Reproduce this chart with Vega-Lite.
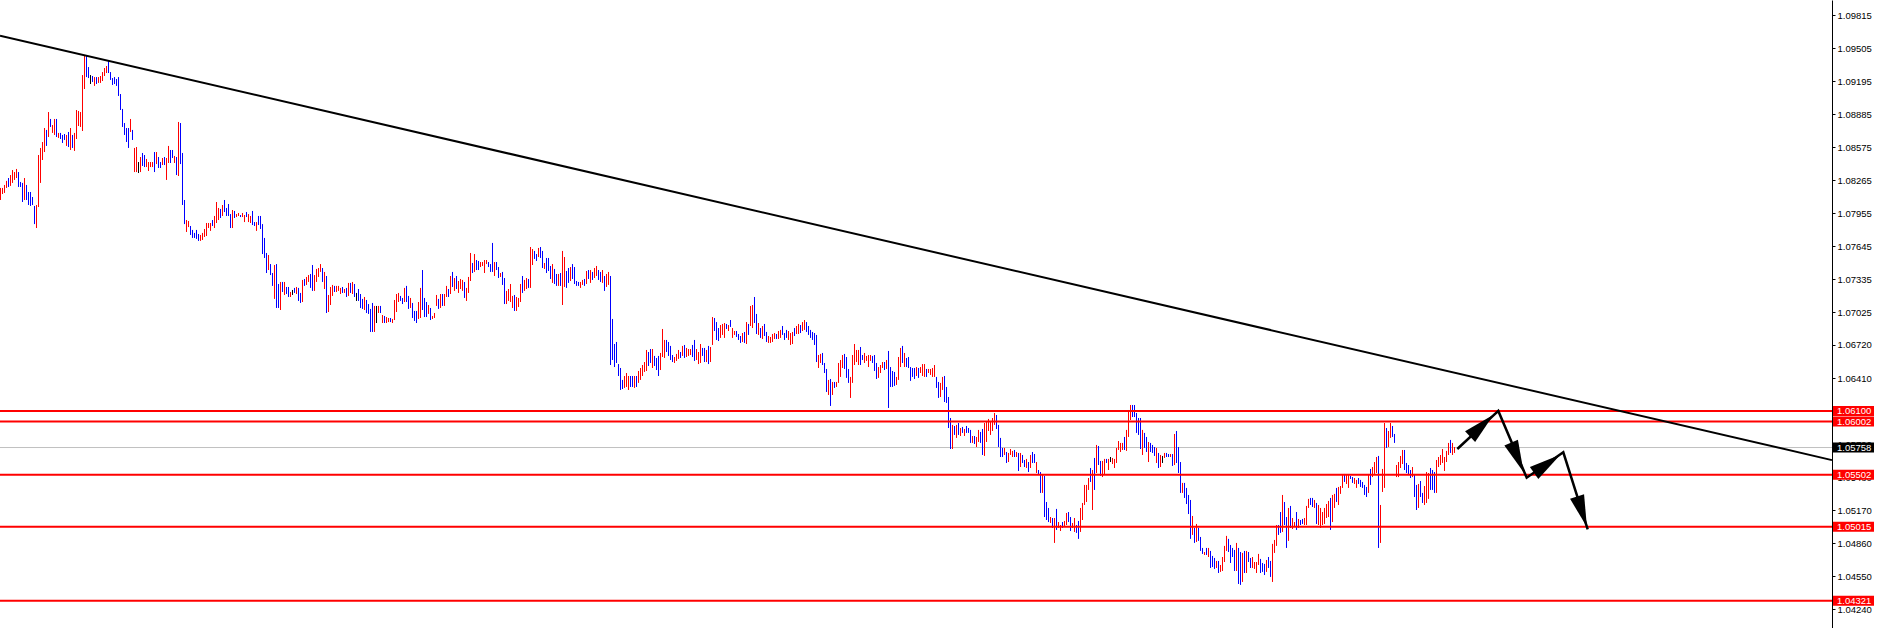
{
"$schema":"https://vega.github.io/schema/vega-lite/v6.json",
"width":1832,"height":628,
"autosize":{"type":"none"},
"padding":{"left":0,"top":0,"right":45,"bottom":0},
"background":"#ffffff",
"config":{"view":{"stroke":null},"axis":{"grid":false,"domainColor":"#000000","domainWidth":1,"tickColor":"#000000","tickSize":3,"tickWidth":1,"labelColor":"#000000","labelFont":"Liberation Sans","labelFontSize":9.5,"labelPadding":2,"labelFlush":false,"labelOverlap":false}},
"datasets":{
"bars":[
{"t":0,"h":1.08193,"l":1.0808,"d":"u"},{"t":1,"h":1.08193,"l":1.08136,"d":"u"},{"t":2,"h":1.08221,"l":1.08146,"d":"u"},{"t":3,"h":1.08259,"l":1.08193,"d":"u"},{"t":4,"h":1.08286,"l":1.08202,"d":"d"},{"t":5,"h":1.08314,"l":1.08212,"d":"u"},{"t":6,"h":1.08361,"l":1.0824,"d":"u"},{"t":7,"h":1.08342,"l":1.08268,"d":"u"},{"t":8,"h":1.08371,"l":1.08286,"d":"u"},{"t":9,"h":1.08342,"l":1.08202,"d":"d"},
{"t":10,"h":1.08249,"l":1.08202,"d":"d"},{"t":11,"h":1.0824,"l":1.08061,"d":"d"},{"t":12,"h":1.08286,"l":1.0808,"d":"u"},{"t":13,"h":1.08221,"l":1.0808,"d":"d"},{"t":14,"h":1.08155,"l":1.08033,"d":"d"},{"t":15,"h":1.08155,"l":1.08024,"d":"d"},{"t":16,"h":1.08108,"l":1.08033,"d":"d"},{"t":17,"h":1.08024,"l":1.07854,"d":"d"},{"t":18,"h":1.08033,"l":1.07817,"d":"u"},{"t":19,"h":1.08502,"l":1.08014,"d":"u"},
{"t":20,"h":1.08568,"l":1.0824,"d":"u"},{"t":21,"h":1.08624,"l":1.08455,"d":"u"},{"t":22,"h":1.08755,"l":1.0853,"d":"u"},{"t":23,"h":1.08737,"l":1.08587,"d":"d"},{"t":24,"h":1.08905,"l":1.08671,"d":"u"},{"t":25,"h":1.0884,"l":1.08765,"d":"d"},{"t":26,"h":1.08783,"l":1.08709,"d":"u"},{"t":27,"h":1.0884,"l":1.0869,"d":"u"},{"t":28,"h":1.0884,"l":1.08671,"d":"d"},{"t":29,"h":1.08709,"l":1.08662,"d":"u"},
{"t":30,"h":1.08709,"l":1.08652,"d":"d"},{"t":31,"h":1.0869,"l":1.08615,"d":"d"},{"t":32,"h":1.08699,"l":1.08643,"d":"d"},{"t":33,"h":1.0869,"l":1.08587,"d":"u"},{"t":34,"h":1.08718,"l":1.08577,"d":"d"},{"t":35,"h":1.08755,"l":1.08549,"d":"u"},{"t":36,"h":1.0869,"l":1.08568,"d":"d"},{"t":37,"h":1.08709,"l":1.0854,"d":"u"},{"t":38,"h":1.08924,"l":1.08652,"d":"u"},{"t":39,"h":1.08915,"l":1.08774,"d":"u"},
{"t":40,"h":1.08905,"l":1.08765,"d":"u"},{"t":41,"h":1.09252,"l":1.08727,"d":"u"},{"t":42,"h":1.0944,"l":1.09121,"d":"u"},{"t":43,"h":1.09431,"l":1.09233,"d":"d"},{"t":44,"h":1.09327,"l":1.09224,"d":"d"},{"t":45,"h":1.09252,"l":1.09168,"d":"k"},{"t":46,"h":1.09243,"l":1.09187,"d":"d"},{"t":47,"h":1.09233,"l":1.0915,"d":"u"},{"t":48,"h":1.09233,"l":1.09168,"d":"d"},{"t":49,"h":1.09233,"l":1.09178,"d":"u"},
{"t":50,"h":1.09243,"l":1.09178,"d":"u"},{"t":51,"h":1.0928,"l":1.09196,"d":"u"},{"t":52,"h":1.09318,"l":1.09243,"d":"u"},{"t":53,"h":1.09337,"l":1.09271,"d":"u"},{"t":54,"h":1.09384,"l":1.09271,"d":"d"},{"t":55,"h":1.0928,"l":1.09206,"d":"d"},{"t":56,"h":1.09224,"l":1.09159,"d":"d"},{"t":57,"h":1.09233,"l":1.09168,"d":"d"},{"t":58,"h":1.09215,"l":1.0915,"d":"d"},{"t":59,"h":1.09233,"l":1.09056,"d":"d"},
{"t":60,"h":1.09074,"l":1.08924,"d":"d"},{"t":61,"h":1.08934,"l":1.08765,"d":"d"},{"t":62,"h":1.08802,"l":1.0869,"d":"d"},{"t":63,"h":1.08755,"l":1.08624,"d":"d"},{"t":64,"h":1.08755,"l":1.08568,"d":"d"},{"t":65,"h":1.0884,"l":1.08718,"d":"u"},{"t":66,"h":1.08737,"l":1.08643,"d":"d"},{"t":67,"h":1.08568,"l":1.08342,"d":"u"},{"t":68,"h":1.08577,"l":1.08342,"d":"u"},{"t":69,"h":1.08436,"l":1.08333,"d":"k"},
{"t":70,"h":1.08483,"l":1.08342,"d":"u"},{"t":71,"h":1.08521,"l":1.08399,"d":"d"},{"t":72,"h":1.08502,"l":1.08389,"d":"d"},{"t":73,"h":1.08465,"l":1.08389,"d":"u"},{"t":74,"h":1.08436,"l":1.08352,"d":"u"},{"t":75,"h":1.08436,"l":1.08389,"d":"u"},{"t":76,"h":1.08436,"l":1.08389,"d":"u"},{"t":77,"h":1.0853,"l":1.08342,"d":"d"},{"t":78,"h":1.0853,"l":1.08417,"d":"u"},{"t":79,"h":1.08483,"l":1.0838,"d":"d"},
{"t":80,"h":1.08436,"l":1.0838,"d":"d"},{"t":81,"h":1.08474,"l":1.08408,"d":"u"},{"t":82,"h":1.08483,"l":1.08408,"d":"d"},{"t":83,"h":1.08474,"l":1.08268,"d":"u"},{"t":84,"h":1.08587,"l":1.08427,"d":"u"},{"t":85,"h":1.08549,"l":1.08427,"d":"d"},{"t":86,"h":1.08549,"l":1.08474,"d":"d"},{"t":87,"h":1.08493,"l":1.08427,"d":"u"},{"t":88,"h":1.08483,"l":1.08314,"d":"d"},{"t":89,"h":1.08812,"l":1.08305,"d":"u"},
{"t":90,"h":1.08802,"l":1.08417,"d":"d"},{"t":91,"h":1.08521,"l":1.08033,"d":"d"},{"t":92,"h":1.0808,"l":1.07854,"d":"d"},{"t":93,"h":1.07892,"l":1.0778,"d":"u"},{"t":94,"h":1.07883,"l":1.07826,"d":"u"},{"t":95,"h":1.07836,"l":1.07752,"d":"d"},{"t":96,"h":1.07799,"l":1.07724,"d":"d"},{"t":97,"h":1.07771,"l":1.07724,"d":"d"},{"t":98,"h":1.07799,"l":1.07715,"d":"d"},{"t":99,"h":1.07761,"l":1.07696,"d":"d"},
{"t":100,"h":1.07752,"l":1.07696,"d":"u"},{"t":101,"h":1.07771,"l":1.07705,"d":"u"},{"t":102,"h":1.07808,"l":1.07733,"d":"u"},{"t":103,"h":1.07864,"l":1.07742,"d":"u"},{"t":104,"h":1.07864,"l":1.07817,"d":"u"},{"t":105,"h":1.07864,"l":1.0779,"d":"u"},{"t":106,"h":1.07892,"l":1.07836,"d":"d"},{"t":107,"h":1.0793,"l":1.07817,"d":"u"},{"t":108,"h":1.08061,"l":1.07864,"d":"u"},{"t":109,"h":1.08005,"l":1.07892,"d":"u"},
{"t":110,"h":1.07996,"l":1.07911,"d":"d"},{"t":111,"h":1.08033,"l":1.0793,"d":"u"},{"t":112,"h":1.0808,"l":1.07967,"d":"d"},{"t":113,"h":1.08005,"l":1.0793,"d":"d"},{"t":114,"h":1.08042,"l":1.0793,"d":"d"},{"t":115,"h":1.07948,"l":1.07817,"d":"d"},{"t":116,"h":1.07986,"l":1.07817,"d":"u"},{"t":117,"h":1.07977,"l":1.07911,"d":"d"},{"t":118,"h":1.07948,"l":1.0792,"d":"u"},{"t":119,"h":1.07958,"l":1.0793,"d":"u"},
{"t":120,"h":1.07939,"l":1.0792,"d":"d"},{"t":121,"h":1.07958,"l":1.0792,"d":"u"},{"t":122,"h":1.07939,"l":1.07873,"d":"u"},{"t":123,"h":1.07967,"l":1.0792,"d":"d"},{"t":124,"h":1.07948,"l":1.07873,"d":"u"},{"t":125,"h":1.0793,"l":1.07864,"d":"u"},{"t":126,"h":1.07977,"l":1.07845,"d":"d"},{"t":127,"h":1.07873,"l":1.07836,"d":"d"},{"t":128,"h":1.07873,"l":1.0779,"d":"u"},{"t":129,"h":1.0793,"l":1.07845,"d":"d"},
{"t":130,"h":1.0793,"l":1.07808,"d":"d"},{"t":131,"h":1.07854,"l":1.07573,"d":"d"},{"t":132,"h":1.07724,"l":1.07536,"d":"d"},{"t":133,"h":1.07583,"l":1.07395,"d":"d"},{"t":134,"h":1.07564,"l":1.07423,"d":"u"},{"t":135,"h":1.07479,"l":1.07376,"d":"d"},{"t":136,"h":1.07395,"l":1.07274,"d":"d"},{"t":137,"h":1.0747,"l":1.07152,"d":"u"},{"t":138,"h":1.07479,"l":1.07067,"d":"d"},{"t":139,"h":1.07292,"l":1.07067,"d":"d"},
{"t":140,"h":1.07311,"l":1.07048,"d":"u"},{"t":141,"h":1.07311,"l":1.07217,"d":"d"},{"t":142,"h":1.07311,"l":1.07189,"d":"u"},{"t":143,"h":1.07264,"l":1.07198,"d":"d"},{"t":144,"h":1.07264,"l":1.0717,"d":"d"},{"t":145,"h":1.07217,"l":1.0717,"d":"u"},{"t":146,"h":1.07236,"l":1.07189,"d":"k"},{"t":147,"h":1.07255,"l":1.07208,"d":"d"},{"t":148,"h":1.07264,"l":1.07198,"d":"u"},{"t":149,"h":1.07255,"l":1.07133,"d":"d"},
{"t":150,"h":1.07208,"l":1.07114,"d":"d"},{"t":151,"h":1.0733,"l":1.07123,"d":"u"},{"t":152,"h":1.07339,"l":1.07274,"d":"d"},{"t":153,"h":1.07358,"l":1.07283,"d":"u"},{"t":154,"h":1.07376,"l":1.07311,"d":"u"},{"t":155,"h":1.07386,"l":1.07255,"d":"d"},{"t":156,"h":1.0747,"l":1.07227,"d":"d"},{"t":157,"h":1.07376,"l":1.07227,"d":"u"},{"t":158,"h":1.07433,"l":1.07311,"d":"u"},{"t":159,"h":1.07442,"l":1.07358,"d":"u"},
{"t":160,"h":1.07479,"l":1.07405,"d":"u"},{"t":161,"h":1.07442,"l":1.07311,"d":"d"},{"t":162,"h":1.07405,"l":1.07245,"d":"u"},{"t":163,"h":1.07367,"l":1.0702,"d":"d"},{"t":164,"h":1.07189,"l":1.07029,"d":"u"},{"t":165,"h":1.07264,"l":1.07095,"d":"u"},{"t":166,"h":1.07283,"l":1.0718,"d":"u"},{"t":167,"h":1.07274,"l":1.07217,"d":"d"},{"t":168,"h":1.07274,"l":1.07217,"d":"u"},{"t":169,"h":1.07274,"l":1.07227,"d":"u"},
{"t":170,"h":1.07255,"l":1.07198,"d":"u"},{"t":171,"h":1.07264,"l":1.07208,"d":"d"},{"t":172,"h":1.07245,"l":1.07208,"d":"u"},{"t":173,"h":1.07255,"l":1.0717,"d":"d"},{"t":174,"h":1.07302,"l":1.0718,"d":"u"},{"t":175,"h":1.07302,"l":1.07208,"d":"d"},{"t":176,"h":1.07311,"l":1.07198,"d":"u"},{"t":177,"h":1.07292,"l":1.0717,"d":"d"},{"t":178,"h":1.07208,"l":1.07133,"d":"k"},{"t":179,"h":1.07245,"l":1.07133,"d":"d"},
{"t":180,"h":1.07198,"l":1.07067,"d":"d"},{"t":181,"h":1.07152,"l":1.07058,"d":"d"},{"t":182,"h":1.0717,"l":1.07048,"d":"u"},{"t":183,"h":1.07142,"l":1.0702,"d":"d"},{"t":184,"h":1.07104,"l":1.07011,"d":"d"},{"t":185,"h":1.07058,"l":1.06842,"d":"d"},{"t":186,"h":1.07114,"l":1.06842,"d":"d"},{"t":187,"h":1.07086,"l":1.06842,"d":"u"},{"t":188,"h":1.07086,"l":1.06926,"d":"k"},{"t":189,"h":1.07086,"l":1.0702,"d":"u"},
{"t":190,"h":1.07086,"l":1.0702,"d":"d"},{"t":191,"h":1.07001,"l":1.06926,"d":"u"},{"t":192,"h":1.06992,"l":1.06926,"d":"d"},{"t":193,"h":1.06982,"l":1.06926,"d":"u"},{"t":194,"h":1.06973,"l":1.06935,"d":"u"},{"t":195,"h":1.06973,"l":1.06935,"d":"d"},{"t":196,"h":1.06964,"l":1.06926,"d":"u"},{"t":197,"h":1.07142,"l":1.06954,"d":"u"},{"t":198,"h":1.07198,"l":1.07029,"d":"u"},{"t":199,"h":1.07208,"l":1.07123,"d":"u"},
{"t":200,"h":1.0718,"l":1.07133,"d":"d"},{"t":201,"h":1.07161,"l":1.07104,"d":"d"},{"t":202,"h":1.07255,"l":1.07123,"d":"u"},{"t":203,"h":1.07274,"l":1.07123,"d":"d"},{"t":204,"h":1.0718,"l":1.07058,"d":"d"},{"t":205,"h":1.07161,"l":1.07067,"d":"u"},{"t":206,"h":1.07114,"l":1.06973,"d":"d"},{"t":207,"h":1.07039,"l":1.06945,"d":"d"},{"t":208,"h":1.07039,"l":1.06926,"d":"d"},{"t":209,"h":1.07123,"l":1.06964,"d":"u"},
{"t":210,"h":1.07255,"l":1.06973,"d":"u"},{"t":211,"h":1.07423,"l":1.07048,"d":"d"},{"t":212,"h":1.07161,"l":1.06982,"d":"d"},{"t":213,"h":1.07123,"l":1.06982,"d":"d"},{"t":214,"h":1.07095,"l":1.07011,"d":"u"},{"t":215,"h":1.07067,"l":1.06954,"d":"d"},{"t":216,"h":1.06992,"l":1.06964,"d":"u"},{"t":217,"h":1.0702,"l":1.06973,"d":"u"},{"t":218,"h":1.07189,"l":1.07086,"d":"u"},{"t":219,"h":1.07152,"l":1.07058,"d":"d"},
{"t":220,"h":1.07198,"l":1.07067,"d":"u"},{"t":221,"h":1.07198,"l":1.07086,"d":"d"},{"t":222,"h":1.07198,"l":1.07086,"d":"u"},{"t":223,"h":1.07274,"l":1.0717,"d":"u"},{"t":224,"h":1.07245,"l":1.0717,"d":"d"},{"t":225,"h":1.07367,"l":1.07198,"d":"u"},{"t":226,"h":1.07405,"l":1.07264,"d":"d"},{"t":227,"h":1.07348,"l":1.07227,"d":"u"},{"t":228,"h":1.07367,"l":1.07245,"d":"d"},{"t":229,"h":1.0732,"l":1.07208,"d":"u"},
{"t":230,"h":1.07339,"l":1.07245,"d":"u"},{"t":231,"h":1.0733,"l":1.07227,"d":"u"},{"t":232,"h":1.07311,"l":1.07161,"d":"d"},{"t":233,"h":1.07255,"l":1.07133,"d":"u"},{"t":234,"h":1.07358,"l":1.07208,"d":"u"},{"t":235,"h":1.07583,"l":1.0732,"d":"u"},{"t":236,"h":1.07489,"l":1.07395,"d":"d"},{"t":237,"h":1.07573,"l":1.07405,"d":"u"},{"t":238,"h":1.07517,"l":1.07423,"d":"d"},{"t":239,"h":1.07508,"l":1.07423,"d":"d"},
{"t":240,"h":1.07498,"l":1.07451,"d":"u"},{"t":241,"h":1.07498,"l":1.07461,"d":"u"},{"t":242,"h":1.07517,"l":1.07395,"d":"u"},{"t":243,"h":1.07517,"l":1.07479,"d":"u"},{"t":244,"h":1.07498,"l":1.07451,"d":"d"},{"t":245,"h":1.07479,"l":1.07405,"d":"d"},{"t":246,"h":1.07677,"l":1.07405,"d":"d"},{"t":247,"h":1.07498,"l":1.07367,"d":"u"},{"t":248,"h":1.07498,"l":1.07423,"d":"d"},{"t":249,"h":1.07451,"l":1.07348,"d":"d"},
{"t":250,"h":1.07395,"l":1.07358,"d":"u"},{"t":251,"h":1.07405,"l":1.07283,"d":"d"},{"t":252,"h":1.07348,"l":1.07104,"d":"d"},{"t":253,"h":1.07227,"l":1.07104,"d":"u"},{"t":254,"h":1.07245,"l":1.07133,"d":"u"},{"t":255,"h":1.07292,"l":1.07123,"d":"u"},{"t":256,"h":1.0718,"l":1.07067,"d":"u"},{"t":257,"h":1.07189,"l":1.07039,"d":"d"},{"t":258,"h":1.0717,"l":1.07039,"d":"u"},{"t":259,"h":1.07161,"l":1.07076,"d":"u"},
{"t":260,"h":1.07292,"l":1.07123,"d":"u"},{"t":261,"h":1.07367,"l":1.07208,"d":"d"},{"t":262,"h":1.0733,"l":1.07227,"d":"u"},{"t":263,"h":1.07348,"l":1.07245,"d":"u"},{"t":264,"h":1.07339,"l":1.07255,"d":"d"},{"t":265,"h":1.07639,"l":1.07255,"d":"u"},{"t":266,"h":1.0762,"l":1.0747,"d":"u"},{"t":267,"h":1.07602,"l":1.07527,"d":"d"},{"t":268,"h":1.07573,"l":1.07508,"d":"d"},{"t":269,"h":1.0763,"l":1.07545,"d":"u"},
{"t":270,"h":1.07639,"l":1.07536,"d":"d"},{"t":271,"h":1.07602,"l":1.07442,"d":"d"},{"t":272,"h":1.07489,"l":1.07433,"d":"u"},{"t":273,"h":1.07536,"l":1.07395,"d":"d"},{"t":274,"h":1.07536,"l":1.07414,"d":"d"},{"t":275,"h":1.07461,"l":1.07339,"d":"d"},{"t":276,"h":1.07479,"l":1.07302,"d":"u"},{"t":277,"h":1.07433,"l":1.07292,"d":"d"},{"t":278,"h":1.07386,"l":1.07274,"d":"d"},{"t":279,"h":1.07386,"l":1.07274,"d":"u"},
{"t":280,"h":1.07395,"l":1.07274,"d":"d"},{"t":281,"h":1.07602,"l":1.07095,"d":"u"},{"t":282,"h":1.07545,"l":1.07264,"d":"u"},{"t":283,"h":1.07414,"l":1.07255,"d":"d"},{"t":284,"h":1.07442,"l":1.07302,"d":"d"},{"t":285,"h":1.07451,"l":1.0732,"d":"u"},{"t":286,"h":1.07479,"l":1.07339,"d":"d"},{"t":287,"h":1.07451,"l":1.07292,"d":"d"},{"t":288,"h":1.0732,"l":1.07274,"d":"d"},{"t":289,"h":1.07311,"l":1.07274,"d":"d"},
{"t":290,"h":1.07311,"l":1.07255,"d":"u"},{"t":291,"h":1.0733,"l":1.07283,"d":"u"},{"t":292,"h":1.07339,"l":1.07274,"d":"d"},{"t":293,"h":1.07414,"l":1.07292,"d":"u"},{"t":294,"h":1.07423,"l":1.07339,"d":"d"},{"t":295,"h":1.07423,"l":1.07302,"d":"u"},{"t":296,"h":1.07405,"l":1.0733,"d":"d"},{"t":297,"h":1.07442,"l":1.07348,"d":"u"},{"t":298,"h":1.07461,"l":1.07367,"d":"u"},{"t":299,"h":1.07423,"l":1.0733,"d":"d"},
{"t":300,"h":1.07405,"l":1.07311,"d":"d"},{"t":301,"h":1.07423,"l":1.07302,"d":"u"},{"t":302,"h":1.07367,"l":1.07227,"d":"d"},{"t":303,"h":1.07386,"l":1.07264,"d":"u"},{"t":304,"h":1.07405,"l":1.07283,"d":"u"},{"t":305,"h":1.07367,"l":1.06532,"d":"d"},{"t":306,"h":1.06964,"l":1.06579,"d":"d"},{"t":307,"h":1.06729,"l":1.06513,"d":"d"},{"t":308,"h":1.06748,"l":1.06551,"d":"d"},{"t":309,"h":1.06541,"l":1.06429,"d":"d"},
{"t":310,"h":1.06504,"l":1.06298,"d":"d"},{"t":311,"h":1.06392,"l":1.06307,"d":"d"},{"t":312,"h":1.06429,"l":1.06317,"d":"u"},{"t":313,"h":1.06457,"l":1.06326,"d":"u"},{"t":314,"h":1.06429,"l":1.06298,"d":"u"},{"t":315,"h":1.06429,"l":1.06326,"d":"d"},{"t":316,"h":1.06429,"l":1.06326,"d":"d"},{"t":317,"h":1.06429,"l":1.06317,"d":"u"},{"t":318,"h":1.06429,"l":1.06326,"d":"d"},{"t":319,"h":1.06476,"l":1.06364,"d":"u"},
{"t":320,"h":1.06504,"l":1.06392,"d":"u"},{"t":321,"h":1.06532,"l":1.06429,"d":"u"},{"t":322,"h":1.0656,"l":1.06467,"d":"u"},{"t":323,"h":1.06673,"l":1.06476,"d":"u"},{"t":324,"h":1.06654,"l":1.06523,"d":"d"},{"t":325,"h":1.06682,"l":1.06551,"d":"d"},{"t":326,"h":1.06682,"l":1.06504,"d":"u"},{"t":327,"h":1.06617,"l":1.06523,"d":"d"},{"t":328,"h":1.06598,"l":1.06485,"d":"d"},{"t":329,"h":1.06617,"l":1.06429,"d":"d"},
{"t":330,"h":1.06645,"l":1.06485,"d":"u"},{"t":331,"h":1.0687,"l":1.06607,"d":"u"},{"t":332,"h":1.06767,"l":1.06598,"d":"u"},{"t":333,"h":1.06767,"l":1.06654,"d":"d"},{"t":334,"h":1.06748,"l":1.06617,"d":"d"},{"t":335,"h":1.06711,"l":1.06579,"d":"d"},{"t":336,"h":1.06626,"l":1.0656,"d":"d"},{"t":337,"h":1.06607,"l":1.06551,"d":"u"},{"t":338,"h":1.06636,"l":1.0657,"d":"u"},{"t":339,"h":1.06673,"l":1.06589,"d":"u"},
{"t":340,"h":1.06654,"l":1.06598,"d":"d"},{"t":341,"h":1.06711,"l":1.06617,"d":"u"},{"t":342,"h":1.0672,"l":1.06598,"d":"d"},{"t":343,"h":1.06692,"l":1.06607,"d":"u"},{"t":344,"h":1.06682,"l":1.06617,"d":"u"},{"t":345,"h":1.06682,"l":1.06626,"d":"u"},{"t":346,"h":1.0672,"l":1.06607,"d":"d"},{"t":347,"h":1.06767,"l":1.0657,"d":"d"},{"t":348,"h":1.06682,"l":1.06579,"d":"u"},{"t":349,"h":1.06654,"l":1.06541,"d":"u"},
{"t":350,"h":1.06729,"l":1.06551,"d":"u"},{"t":351,"h":1.06692,"l":1.06617,"d":"d"},{"t":352,"h":1.06692,"l":1.0656,"d":"d"},{"t":353,"h":1.06673,"l":1.0656,"d":"u"},{"t":354,"h":1.06711,"l":1.06541,"d":"d"},{"t":355,"h":1.06701,"l":1.0656,"d":"u"},{"t":356,"h":1.06982,"l":1.0672,"d":"u"},{"t":357,"h":1.06973,"l":1.06851,"d":"d"},{"t":358,"h":1.06935,"l":1.06767,"d":"d"},{"t":359,"h":1.06879,"l":1.06757,"d":"d"},
{"t":360,"h":1.06907,"l":1.06786,"d":"u"},{"t":361,"h":1.06917,"l":1.06814,"d":"u"},{"t":362,"h":1.06926,"l":1.06786,"d":"u"},{"t":363,"h":1.06917,"l":1.0687,"d":"d"},{"t":364,"h":1.06907,"l":1.06851,"d":"u"},{"t":365,"h":1.06954,"l":1.06889,"d":"d"},{"t":366,"h":1.06879,"l":1.06786,"d":"u"},{"t":367,"h":1.06851,"l":1.06814,"d":"u"},{"t":368,"h":1.06851,"l":1.06795,"d":"d"},{"t":369,"h":1.06823,"l":1.06767,"d":"d"},
{"t":370,"h":1.06804,"l":1.06739,"d":"d"},{"t":371,"h":1.06832,"l":1.06748,"d":"u"},{"t":372,"h":1.06842,"l":1.06739,"d":"d"},{"t":373,"h":1.06935,"l":1.06729,"d":"u"},{"t":374,"h":1.06917,"l":1.06814,"d":"d"},{"t":375,"h":1.07086,"l":1.06898,"d":"u"},{"t":376,"h":1.07095,"l":1.06879,"d":"u"},{"t":377,"h":1.0717,"l":1.06926,"d":"d"},{"t":378,"h":1.07011,"l":1.06823,"d":"d"},{"t":379,"h":1.06926,"l":1.06814,"d":"u"},
{"t":380,"h":1.06879,"l":1.06786,"d":"d"},{"t":381,"h":1.06898,"l":1.06776,"d":"u"},{"t":382,"h":1.06917,"l":1.06804,"d":"d"},{"t":383,"h":1.06842,"l":1.06748,"d":"d"},{"t":384,"h":1.06804,"l":1.06739,"d":"u"},{"t":385,"h":1.06795,"l":1.06739,"d":"u"},{"t":386,"h":1.06823,"l":1.06748,"d":"u"},{"t":387,"h":1.06832,"l":1.06776,"d":"u"},{"t":388,"h":1.06823,"l":1.06776,"d":"d"},{"t":389,"h":1.06851,"l":1.06776,"d":"u"},
{"t":390,"h":1.06861,"l":1.06786,"d":"u"},{"t":391,"h":1.06898,"l":1.06814,"d":"d"},{"t":392,"h":1.06832,"l":1.06767,"d":"d"},{"t":393,"h":1.06861,"l":1.06786,"d":"d"},{"t":394,"h":1.06851,"l":1.06767,"d":"u"},{"t":395,"h":1.06832,"l":1.0672,"d":"u"},{"t":396,"h":1.06842,"l":1.06729,"d":"u"},{"t":397,"h":1.06879,"l":1.06804,"d":"d"},{"t":398,"h":1.06898,"l":1.06823,"d":"u"},{"t":399,"h":1.06917,"l":1.06823,"d":"u"},
{"t":400,"h":1.06907,"l":1.06832,"d":"d"},{"t":401,"h":1.06935,"l":1.06851,"d":"u"},{"t":402,"h":1.06954,"l":1.06861,"d":"u"},{"t":403,"h":1.06935,"l":1.06842,"d":"d"},{"t":404,"h":1.06898,"l":1.06814,"d":"d"},{"t":405,"h":1.06861,"l":1.06786,"d":"d"},{"t":406,"h":1.06842,"l":1.06767,"d":"d"},{"t":407,"h":1.06832,"l":1.0672,"d":"d"},{"t":408,"h":1.06814,"l":1.0656,"d":"d"},{"t":409,"h":1.06626,"l":1.06504,"d":"u"},
{"t":410,"h":1.06636,"l":1.06551,"d":"u"},{"t":411,"h":1.06645,"l":1.06532,"d":"d"},{"t":412,"h":1.06551,"l":1.06457,"d":"d"},{"t":413,"h":1.06495,"l":1.06279,"d":"d"},{"t":414,"h":1.06392,"l":1.06251,"d":"u"},{"t":415,"h":1.06401,"l":1.06148,"d":"d"},{"t":416,"h":1.06373,"l":1.06251,"d":"u"},{"t":417,"h":1.06373,"l":1.06317,"d":"d"},{"t":418,"h":1.06373,"l":1.06326,"d":"u"},{"t":419,"h":1.06551,"l":1.06364,"d":"u"},
{"t":420,"h":1.06579,"l":1.0642,"d":"u"},{"t":421,"h":1.06626,"l":1.06504,"d":"u"},{"t":422,"h":1.06636,"l":1.06495,"d":"d"},{"t":423,"h":1.06607,"l":1.06411,"d":"d"},{"t":424,"h":1.06495,"l":1.06364,"d":"d"},{"t":425,"h":1.0642,"l":1.06223,"d":"u"},{"t":426,"h":1.06626,"l":1.06364,"d":"u"},{"t":427,"h":1.06729,"l":1.06532,"d":"u"},{"t":428,"h":1.06673,"l":1.0656,"d":"u"},{"t":429,"h":1.06673,"l":1.06532,"d":"u"},
{"t":430,"h":1.06701,"l":1.06532,"d":"d"},{"t":431,"h":1.06626,"l":1.06579,"d":"d"},{"t":432,"h":1.06645,"l":1.06551,"d":"u"},{"t":433,"h":1.06617,"l":1.0657,"d":"u"},{"t":434,"h":1.06626,"l":1.06513,"d":"u"},{"t":435,"h":1.06626,"l":1.0657,"d":"u"},{"t":436,"h":1.06617,"l":1.06551,"d":"d"},{"t":437,"h":1.06626,"l":1.06476,"d":"d"},{"t":438,"h":1.06551,"l":1.06401,"d":"d"},{"t":439,"h":1.06513,"l":1.06411,"d":"u"},
{"t":440,"h":1.06532,"l":1.06457,"d":"u"},{"t":441,"h":1.0656,"l":1.06504,"d":"u"},{"t":442,"h":1.0656,"l":1.06485,"d":"d"},{"t":443,"h":1.06579,"l":1.06495,"d":"u"},{"t":444,"h":1.06664,"l":1.06129,"d":"d"},{"t":445,"h":1.06513,"l":1.06326,"d":"d"},{"t":446,"h":1.06476,"l":1.06326,"d":"d"},{"t":447,"h":1.06467,"l":1.06336,"d":"d"},{"t":448,"h":1.0642,"l":1.06345,"d":"u"},{"t":449,"h":1.06607,"l":1.06392,"d":"u"},
{"t":450,"h":1.06692,"l":1.06513,"d":"u"},{"t":451,"h":1.06711,"l":1.06551,"d":"d"},{"t":452,"h":1.06645,"l":1.06513,"d":"u"},{"t":453,"h":1.06598,"l":1.06513,"d":"d"},{"t":454,"h":1.06607,"l":1.06504,"d":"d"},{"t":455,"h":1.06513,"l":1.06383,"d":"d"},{"t":456,"h":1.06504,"l":1.0642,"d":"d"},{"t":457,"h":1.06504,"l":1.06401,"d":"d"},{"t":458,"h":1.06513,"l":1.06429,"d":"u"},{"t":459,"h":1.06504,"l":1.06411,"d":"d"},
{"t":460,"h":1.06513,"l":1.06457,"d":"u"},{"t":461,"h":1.06541,"l":1.06429,"d":"u"},{"t":462,"h":1.06541,"l":1.0642,"d":"u"},{"t":463,"h":1.06495,"l":1.0642,"d":"d"},{"t":464,"h":1.06495,"l":1.06457,"d":"u"},{"t":465,"h":1.06495,"l":1.06439,"d":"u"},{"t":466,"h":1.06504,"l":1.0642,"d":"u"},{"t":467,"h":1.06532,"l":1.0642,"d":"u"},{"t":468,"h":1.0642,"l":1.06317,"d":"d"},{"t":469,"h":1.06373,"l":1.06223,"d":"d"},
{"t":470,"h":1.06364,"l":1.06232,"d":"u"},{"t":471,"h":1.0642,"l":1.06298,"d":"u"},{"t":472,"h":1.06429,"l":1.06185,"d":"d"},{"t":473,"h":1.06326,"l":1.06176,"d":"d"},{"t":474,"h":1.06232,"l":1.05941,"d":"d"},{"t":475,"h":1.06035,"l":1.05744,"d":"d"},{"t":476,"h":1.0597,"l":1.05744,"d":"u"},{"t":477,"h":1.0596,"l":1.05876,"d":"d"},{"t":478,"h":1.0597,"l":1.05848,"d":"u"},{"t":479,"h":1.05988,"l":1.05876,"d":"d"},
{"t":480,"h":1.05941,"l":1.05866,"d":"u"},{"t":481,"h":1.05951,"l":1.05895,"d":"d"},{"t":482,"h":1.05932,"l":1.05866,"d":"u"},{"t":483,"h":1.0596,"l":1.05895,"d":"d"},{"t":484,"h":1.05941,"l":1.05895,"d":"d"},{"t":485,"h":1.05923,"l":1.05801,"d":"d"},{"t":486,"h":1.05866,"l":1.05801,"d":"u"},{"t":487,"h":1.05866,"l":1.05791,"d":"d"},{"t":488,"h":1.05857,"l":1.05763,"d":"u"},{"t":489,"h":1.05923,"l":1.0581,"d":"u"},
{"t":490,"h":1.05904,"l":1.05801,"d":"d"},{"t":491,"h":1.05932,"l":1.05688,"d":"d"},{"t":492,"h":1.05988,"l":1.05679,"d":"u"},{"t":493,"h":1.06007,"l":1.0581,"d":"u"},{"t":494,"h":1.06026,"l":1.05913,"d":"u"},{"t":495,"h":1.06007,"l":1.05876,"d":"u"},{"t":496,"h":1.06035,"l":1.05913,"d":"u"},{"t":497,"h":1.06082,"l":1.0597,"d":"u"},{"t":498,"h":1.06063,"l":1.05932,"d":"d"},{"t":499,"h":1.0597,"l":1.05763,"d":"d"},
{"t":500,"h":1.05848,"l":1.05669,"d":"d"},{"t":501,"h":1.05754,"l":1.05669,"d":"d"},{"t":502,"h":1.05754,"l":1.05688,"d":"u"},{"t":503,"h":1.05716,"l":1.05613,"d":"d"},{"t":504,"h":1.05707,"l":1.05622,"d":"u"},{"t":505,"h":1.05744,"l":1.05688,"d":"u"},{"t":506,"h":1.05726,"l":1.05669,"d":"u"},{"t":507,"h":1.05735,"l":1.05669,"d":"d"},{"t":508,"h":1.05716,"l":1.05669,"d":"u"},{"t":509,"h":1.05707,"l":1.05538,"d":"d"},
{"t":510,"h":1.05707,"l":1.05575,"d":"u"},{"t":511,"h":1.05688,"l":1.05613,"d":"d"},{"t":512,"h":1.05641,"l":1.05575,"d":"d"},{"t":513,"h":1.05651,"l":1.05566,"d":"u"},{"t":514,"h":1.05622,"l":1.05528,"d":"d"},{"t":515,"h":1.05688,"l":1.05566,"d":"u"},{"t":516,"h":1.05716,"l":1.05613,"d":"d"},{"t":517,"h":1.05697,"l":1.05613,"d":"d"},{"t":518,"h":1.05622,"l":1.05519,"d":"u"},{"t":519,"h":1.05547,"l":1.055,"d":"d"},
{"t":520,"h":1.05528,"l":1.05332,"d":"d"},{"t":521,"h":1.055,"l":1.05332,"d":"u"},{"t":522,"h":1.05491,"l":1.05106,"d":"d"},{"t":523,"h":1.05247,"l":1.05078,"d":"d"},{"t":524,"h":1.05191,"l":1.05059,"d":"d"},{"t":525,"h":1.05106,"l":1.0505,"d":"u"},{"t":526,"h":1.05097,"l":1.05003,"d":"d"},{"t":527,"h":1.05097,"l":1.04863,"d":"u"},{"t":528,"h":1.05182,"l":1.04985,"d":"d"},{"t":529,"h":1.05059,"l":1.05003,"d":"u"},
{"t":530,"h":1.05031,"l":1.04975,"d":"u"},{"t":531,"h":1.05059,"l":1.05003,"d":"d"},{"t":532,"h":1.05069,"l":1.05013,"d":"u"},{"t":533,"h":1.05144,"l":1.05031,"d":"u"},{"t":534,"h":1.05153,"l":1.05059,"d":"d"},{"t":535,"h":1.05106,"l":1.04975,"d":"d"},{"t":536,"h":1.0505,"l":1.05003,"d":"u"},{"t":537,"h":1.05097,"l":1.04966,"d":"u"},{"t":538,"h":1.05031,"l":1.04957,"d":"d"},{"t":539,"h":1.05069,"l":1.04901,"d":"d"},
{"t":540,"h":1.05191,"l":1.04966,"d":"u"},{"t":541,"h":1.05238,"l":1.05078,"d":"u"},{"t":542,"h":1.05407,"l":1.05219,"d":"u"},{"t":543,"h":1.05407,"l":1.05247,"d":"u"},{"t":544,"h":1.05472,"l":1.0536,"d":"u"},{"t":545,"h":1.05566,"l":1.05435,"d":"d"},{"t":546,"h":1.05547,"l":1.05172,"d":"u"},{"t":547,"h":1.0566,"l":1.0536,"d":"d"},{"t":548,"h":1.05782,"l":1.05519,"d":"u"},{"t":549,"h":1.05772,"l":1.05594,"d":"d"},
{"t":550,"h":1.05632,"l":1.05491,"d":"d"},{"t":551,"h":1.05632,"l":1.05481,"d":"u"},{"t":552,"h":1.05651,"l":1.055,"d":"u"},{"t":553,"h":1.05651,"l":1.05613,"d":"d"},{"t":554,"h":1.05651,"l":1.05547,"d":"u"},{"t":555,"h":1.05669,"l":1.05622,"d":"k"},{"t":556,"h":1.0566,"l":1.05603,"d":"u"},{"t":557,"h":1.05651,"l":1.05566,"d":"u"},{"t":558,"h":1.05754,"l":1.05613,"d":"u"},{"t":559,"h":1.05819,"l":1.05735,"d":"u"},
{"t":560,"h":1.05801,"l":1.05716,"d":"u"},{"t":561,"h":1.05801,"l":1.05735,"d":"u"},{"t":562,"h":1.05857,"l":1.05735,"d":"d"},{"t":563,"h":1.05923,"l":1.05726,"d":"u"},{"t":564,"h":1.0611,"l":1.05857,"d":"u"},{"t":565,"h":1.06157,"l":1.06016,"d":"u"},{"t":566,"h":1.06157,"l":1.06044,"d":"d"},{"t":567,"h":1.06157,"l":1.06044,"d":"d"},{"t":568,"h":1.06082,"l":1.05895,"d":"d"},{"t":569,"h":1.06035,"l":1.05876,"d":"d"},
{"t":570,"h":1.06035,"l":1.05744,"d":"d"},{"t":571,"h":1.05923,"l":1.05688,"d":"u"},{"t":572,"h":1.05895,"l":1.05754,"d":"d"},{"t":573,"h":1.05857,"l":1.05716,"d":"d"},{"t":574,"h":1.0581,"l":1.05622,"d":"u"},{"t":575,"h":1.05801,"l":1.05716,"d":"d"},{"t":576,"h":1.05782,"l":1.05707,"d":"d"},{"t":577,"h":1.05763,"l":1.05679,"d":"d"},{"t":578,"h":1.05754,"l":1.05613,"d":"u"},{"t":579,"h":1.05707,"l":1.05566,"d":"d"},
{"t":580,"h":1.05688,"l":1.05575,"d":"u"},{"t":581,"h":1.05679,"l":1.05613,"d":"k"},{"t":582,"h":1.05707,"l":1.0566,"d":"u"},{"t":583,"h":1.05707,"l":1.05669,"d":"d"},{"t":584,"h":1.05697,"l":1.05669,"d":"d"},{"t":585,"h":1.05697,"l":1.05669,"d":"u"},{"t":586,"h":1.05697,"l":1.05585,"d":"d"},{"t":587,"h":1.05885,"l":1.05594,"d":"u"},{"t":588,"h":1.05913,"l":1.05613,"d":"d"},{"t":589,"h":1.05763,"l":1.05519,"d":"d"},
{"t":590,"h":1.05622,"l":1.05332,"d":"d"},{"t":591,"h":1.05426,"l":1.05332,"d":"u"},{"t":592,"h":1.05426,"l":1.05285,"d":"d"},{"t":593,"h":1.05379,"l":1.05228,"d":"d"},{"t":594,"h":1.05313,"l":1.05134,"d":"d"},{"t":595,"h":1.05266,"l":1.04901,"d":"d"},{"t":596,"h":1.05116,"l":1.04938,"d":"u"},{"t":597,"h":1.05003,"l":1.04863,"d":"d"},{"t":598,"h":1.05041,"l":1.04872,"d":"u"},{"t":599,"h":1.05003,"l":1.04882,"d":"d"},
{"t":600,"h":1.04919,"l":1.04788,"d":"d"},{"t":601,"h":1.04816,"l":1.0476,"d":"d"},{"t":602,"h":1.04778,"l":1.0475,"d":"u"},{"t":603,"h":1.04816,"l":1.0475,"d":"d"},{"t":604,"h":1.04816,"l":1.04731,"d":"u"},{"t":605,"h":1.04788,"l":1.04628,"d":"d"},{"t":606,"h":1.04741,"l":1.04637,"d":"d"},{"t":607,"h":1.04722,"l":1.04619,"d":"d"},{"t":608,"h":1.04694,"l":1.04628,"d":"u"},{"t":609,"h":1.04694,"l":1.04581,"d":"d"},
{"t":610,"h":1.04656,"l":1.04591,"d":"u"},{"t":611,"h":1.04731,"l":1.046,"d":"u"},{"t":612,"h":1.04835,"l":1.04684,"d":"u"},{"t":613,"h":1.04929,"l":1.04788,"d":"u"},{"t":614,"h":1.04901,"l":1.04778,"d":"d"},{"t":615,"h":1.04844,"l":1.04675,"d":"d"},{"t":616,"h":1.04816,"l":1.04731,"d":"d"},{"t":617,"h":1.04797,"l":1.046,"d":"d"},{"t":618,"h":1.04863,"l":1.046,"d":"u"},{"t":619,"h":1.04816,"l":1.04478,"d":"d"},
{"t":620,"h":1.04778,"l":1.04469,"d":"d"},{"t":621,"h":1.04769,"l":1.04497,"d":"u"},{"t":622,"h":1.04788,"l":1.04581,"d":"d"},{"t":623,"h":1.04788,"l":1.04581,"d":"u"},{"t":624,"h":1.04778,"l":1.04684,"d":"d"},{"t":625,"h":1.04722,"l":1.04628,"d":"d"},{"t":626,"h":1.04731,"l":1.04628,"d":"u"},{"t":627,"h":1.04684,"l":1.04619,"d":"u"},{"t":628,"h":1.04684,"l":1.04581,"d":"u"},{"t":629,"h":1.0476,"l":1.04656,"d":"u"},
{"t":630,"h":1.04713,"l":1.04581,"d":"d"},{"t":631,"h":1.04675,"l":1.04591,"d":"d"},{"t":632,"h":1.04666,"l":1.04562,"d":"d"},{"t":633,"h":1.04703,"l":1.04591,"d":"u"},{"t":634,"h":1.04731,"l":1.04628,"d":"d"},{"t":635,"h":1.04694,"l":1.04544,"d":"d"},{"t":636,"h":1.04854,"l":1.04497,"d":"u"},{"t":637,"h":1.04891,"l":1.04769,"d":"u"},{"t":638,"h":1.05031,"l":1.04835,"d":"u"},{"t":639,"h":1.05031,"l":1.04938,"d":"d"},
{"t":640,"h":1.05153,"l":1.04957,"d":"d"},{"t":641,"h":1.05313,"l":1.04966,"d":"u"},{"t":642,"h":1.05247,"l":1.05031,"d":"d"},{"t":643,"h":1.05106,"l":1.04816,"d":"d"},{"t":644,"h":1.05191,"l":1.04882,"d":"u"},{"t":645,"h":1.0521,"l":1.05003,"d":"d"},{"t":646,"h":1.05097,"l":1.04994,"d":"u"},{"t":647,"h":1.05059,"l":1.05013,"d":"u"},{"t":648,"h":1.05153,"l":1.04985,"d":"d"},{"t":649,"h":1.05088,"l":1.05003,"d":"u"},
{"t":650,"h":1.05078,"l":1.05031,"d":"d"},{"t":651,"h":1.05088,"l":1.05041,"d":"d"},{"t":652,"h":1.05097,"l":1.05031,"d":"u"},{"t":653,"h":1.0521,"l":1.05031,"d":"u"},{"t":654,"h":1.05276,"l":1.05191,"d":"u"},{"t":655,"h":1.05285,"l":1.05219,"d":"d"},{"t":656,"h":1.05285,"l":1.052,"d":"d"},{"t":657,"h":1.05266,"l":1.05191,"d":"u"},{"t":658,"h":1.05238,"l":1.05041,"d":"d"},{"t":659,"h":1.05219,"l":1.05031,"d":"u"},
{"t":660,"h":1.05191,"l":1.05003,"d":"u"},{"t":661,"h":1.05153,"l":1.05031,"d":"u"},{"t":662,"h":1.05191,"l":1.05041,"d":"u"},{"t":663,"h":1.05228,"l":1.05097,"d":"u"},{"t":664,"h":1.05257,"l":1.05106,"d":"u"},{"t":665,"h":1.05285,"l":1.04985,"d":"d"},{"t":666,"h":1.05313,"l":1.05059,"d":"u"},{"t":667,"h":1.05323,"l":1.05191,"d":"u"},{"t":668,"h":1.05379,"l":1.05247,"d":"d"},{"t":669,"h":1.05388,"l":1.05219,"d":"u"},
{"t":670,"h":1.05397,"l":1.05323,"d":"u"},{"t":671,"h":1.055,"l":1.05379,"d":"u"},{"t":672,"h":1.0551,"l":1.05435,"d":"d"},{"t":673,"h":1.055,"l":1.05416,"d":"u"},{"t":674,"h":1.055,"l":1.05379,"d":"u"},{"t":675,"h":1.05491,"l":1.05463,"d":"d"},{"t":676,"h":1.05481,"l":1.05426,"d":"d"},{"t":677,"h":1.05472,"l":1.05416,"d":"u"},{"t":678,"h":1.05454,"l":1.05379,"d":"u"},{"t":679,"h":1.05472,"l":1.05416,"d":"d"},
{"t":680,"h":1.05454,"l":1.05388,"d":"d"},{"t":681,"h":1.05435,"l":1.05379,"d":"d"},{"t":682,"h":1.05407,"l":1.05313,"d":"d"},{"t":683,"h":1.05388,"l":1.05294,"d":"d"},{"t":684,"h":1.0551,"l":1.05332,"d":"u"},{"t":685,"h":1.05557,"l":1.05407,"d":"d"},{"t":686,"h":1.05575,"l":1.05481,"d":"u"},{"t":687,"h":1.05622,"l":1.0551,"d":"u"},{"t":688,"h":1.05669,"l":1.05519,"d":"u"},{"t":689,"h":1.05679,"l":1.04816,"d":"d"},
{"t":690,"h":1.05219,"l":1.04863,"d":"u"},{"t":691,"h":1.05557,"l":1.05341,"d":"u"},{"t":692,"h":1.05988,"l":1.05379,"d":"u"},{"t":693,"h":1.05941,"l":1.05754,"d":"d"},{"t":694,"h":1.05913,"l":1.05763,"d":"u"},{"t":695,"h":1.05988,"l":1.05848,"d":"u"},{"t":696,"h":1.0596,"l":1.05857,"d":"d"},{"t":697,"h":1.05885,"l":1.05801,"d":"d"},{"t":698,"h":1.05594,"l":1.05481,"d":"u"},{"t":699,"h":1.05622,"l":1.05481,"d":"u"},
{"t":700,"h":1.05679,"l":1.05566,"d":"u"},{"t":701,"h":1.05735,"l":1.05603,"d":"u"},{"t":702,"h":1.05735,"l":1.05547,"d":"d"},{"t":703,"h":1.05613,"l":1.05519,"d":"d"},{"t":704,"h":1.05594,"l":1.055,"d":"d"},{"t":705,"h":1.05547,"l":1.05472,"d":"d"},{"t":706,"h":1.05575,"l":1.05481,"d":"u"},{"t":707,"h":1.0551,"l":1.05294,"d":"d"},{"t":708,"h":1.05407,"l":1.05172,"d":"d"},{"t":709,"h":1.05416,"l":1.05191,"d":"u"},
{"t":710,"h":1.05444,"l":1.05294,"d":"d"},{"t":711,"h":1.05332,"l":1.05238,"d":"d"},{"t":712,"h":1.05397,"l":1.05219,"d":"u"},{"t":713,"h":1.05528,"l":1.05238,"d":"u"},{"t":714,"h":1.05519,"l":1.05276,"d":"u"},{"t":715,"h":1.05566,"l":1.0536,"d":"d"},{"t":716,"h":1.05547,"l":1.0536,"d":"d"},{"t":717,"h":1.05528,"l":1.05332,"d":"d"},{"t":718,"h":1.05641,"l":1.05332,"d":"u"},{"t":719,"h":1.05669,"l":1.05575,"d":"u"},
{"t":720,"h":1.05688,"l":1.05594,"d":"u"},{"t":721,"h":1.05744,"l":1.05613,"d":"u"},{"t":722,"h":1.05669,"l":1.05538,"d":"u"},{"t":723,"h":1.05726,"l":1.05622,"d":"u"},{"t":724,"h":1.05801,"l":1.05688,"d":"u"},{"t":725,"h":1.05829,"l":1.05707,"d":"d"},{"t":726,"h":1.05801,"l":1.05688,"d":"u"},{"t":727,"h":1.05763,"l":1.05707,"d":"u"}
],
"levels":[{"p":1.061},{"p":1.06002},{"p":1.05502},{"p":1.05015},{"p":1.04321}],
"current":[{"p":1.05758}],
"trend":[{"t":-0.25,"p":1.09621},{"t":915.75,"p":1.0564}],
"path":[{"t":728.4,"p":1.05744},{"t":748.9,"p":1.06101},{"t":763.1,"p":1.05475},{"t":781.4,"p":1.05713},{"t":793.6,"p":1.04991}],
"heads":[{"k":1,"t":740.65,"p":1.05962},{"k":2,"t":758.45,"p":1.05665},{"k":3,"t":773.35,"p":1.05605},{"k":4,"t":790.75,"p":1.05155}]
},
"layer":[
{"data":{"name":"current"},"mark":{"type":"rule","color":"#c0c0c0","strokeWidth":1},
 "encoding":{"y":{"field":"p","type":"quantitative","scale":{"domain":[1.04065,1.09956],"zero":false,"nice":false},
  "axis":{"orient":"right","title":null,"format":".5f","values":[1.09815,1.09505,1.09195,1.08885,1.08575,1.08265,1.07955,1.07645,1.07335,1.07025,1.0672,1.0641,1.061,1.0579,1.0548,1.0517,1.0486,1.0455,1.0424]}}}},
{"data":{"name":"bars"},"mark":{"type":"rule","strokeWidth":1},
 "encoding":{"x":{"field":"t","type":"quantitative","scale":{"domain":[-0.25,915.75],"zero":false,"nice":false},"axis":null},
  "y":{"field":"h","type":"quantitative","scale":{"domain":[1.04065,1.09956],"zero":false,"nice":false},
   "axis":{"orient":"right","title":null,"format":".5f","values":[1.09815,1.09505,1.09195,1.08885,1.08575,1.08265,1.07955,1.07645,1.07335,1.07025,1.0672,1.0641,1.061,1.0579,1.0548,1.0517,1.0486,1.0455,1.0424]}},
  "y2":{"field":"l"},
  "color":{"field":"d","type":"nominal","scale":{"domain":["u","d","k"],"range":["#ff0000","#0000ff","#000000"]},"legend":null}}},
{"data":{"name":"levels"},"mark":{"type":"rule","color":"#ff0000","strokeWidth":2},
 "encoding":{"y":{"field":"p","type":"quantitative","scale":{"domain":[1.04065,1.09956],"zero":false,"nice":false},
  "axis":{"orient":"right","title":null,"format":".5f","values":[1.09815,1.09505,1.09195,1.08885,1.08575,1.08265,1.07955,1.07645,1.07335,1.07025,1.0672,1.0641,1.061,1.0579,1.0548,1.0517,1.0486,1.0455,1.0424]}}}},
{"data":{"name":"trend"},"mark":{"type":"line","color":"#000000","strokeWidth":2},
 "encoding":{"x":{"field":"t","type":"quantitative","scale":{"domain":[-0.25,915.75],"zero":false,"nice":false},"axis":null},
  "y":{"field":"p","type":"quantitative","scale":{"domain":[1.04065,1.09956],"zero":false,"nice":false},
   "axis":{"orient":"right","title":null,"format":".5f","values":[1.09815,1.09505,1.09195,1.08885,1.08575,1.08265,1.07955,1.07645,1.07335,1.07025,1.0672,1.0641,1.061,1.0579,1.0548,1.0517,1.0486,1.0455,1.0424]}}}},
{"data":{"name":"path"},"mark":{"type":"line","color":"#000000","strokeWidth":2.5},
 "encoding":{"x":{"field":"t","type":"quantitative","scale":{"domain":[-0.25,915.75],"zero":false,"nice":false},"axis":null},
  "y":{"field":"p","type":"quantitative","scale":{"domain":[1.04065,1.09956],"zero":false,"nice":false},
   "axis":{"orient":"right","title":null,"format":".5f","values":[1.09815,1.09505,1.09195,1.08885,1.08575,1.08265,1.07955,1.07645,1.07335,1.07025,1.0672,1.0641,1.061,1.0579,1.0548,1.0517,1.0486,1.0455,1.0424]}}}},
{"data":{"name":"heads"},"transform":[{"filter":"datum.k == 1"}],"mark":{"type":"point","shape":"M0,-1L0.46,1L-0.46,1Z","size":1024,"angle":47,"filled":true,"color":"#000000","opacity":1,"strokeWidth":0},
 "encoding":{"x":{"field":"t","type":"quantitative","scale":{"domain":[-0.25,915.75],"zero":false,"nice":false},"axis":null},
  "y":{"field":"p","type":"quantitative","scale":{"domain":[1.04065,1.09956],"zero":false,"nice":false},
   "axis":{"orient":"right","title":null,"format":".5f","values":[1.09815,1.09505,1.09195,1.08885,1.08575,1.08265,1.07955,1.07645,1.07335,1.07025,1.0672,1.0641,1.061,1.0579,1.0548,1.0517,1.0486,1.0455,1.0424]}}}},
{"data":{"name":"heads"},"transform":[{"filter":"datum.k == 2"}],"mark":{"type":"point","shape":"M0,-1L0.46,1L-0.46,1Z","size":1024,"angle":157,"filled":true,"color":"#000000","opacity":1,"strokeWidth":0},
 "encoding":{"x":{"field":"t","type":"quantitative","scale":{"domain":[-0.25,915.75],"zero":false,"nice":false},"axis":null},
  "y":{"field":"p","type":"quantitative","scale":{"domain":[1.04065,1.09956],"zero":false,"nice":false},
   "axis":{"orient":"right","title":null,"format":".5f","values":[1.09815,1.09505,1.09195,1.08885,1.08575,1.08265,1.07955,1.07645,1.07335,1.07025,1.0672,1.0641,1.061,1.0579,1.0548,1.0517,1.0486,1.0455,1.0424]}}}},
{"data":{"name":"heads"},"transform":[{"filter":"datum.k == 3"}],"mark":{"type":"point","shape":"M0,-1L0.46,1L-0.46,1Z","size":1024,"angle":55,"filled":true,"color":"#000000","opacity":1,"strokeWidth":0},
 "encoding":{"x":{"field":"t","type":"quantitative","scale":{"domain":[-0.25,915.75],"zero":false,"nice":false},"axis":null},
  "y":{"field":"p","type":"quantitative","scale":{"domain":[1.04065,1.09956],"zero":false,"nice":false},
   "axis":{"orient":"right","title":null,"format":".5f","values":[1.09815,1.09505,1.09195,1.08885,1.08575,1.08265,1.07955,1.07645,1.07335,1.07025,1.0672,1.0641,1.061,1.0579,1.0548,1.0517,1.0486,1.0455,1.0424]}}}},
{"data":{"name":"heads"},"transform":[{"filter":"datum.k == 4"}],"mark":{"type":"point","shape":"M0,-1L0.46,1L-0.46,1Z","size":1024,"angle":162,"filled":true,"color":"#000000","opacity":1,"strokeWidth":0},
 "encoding":{"x":{"field":"t","type":"quantitative","scale":{"domain":[-0.25,915.75],"zero":false,"nice":false},"axis":null},
  "y":{"field":"p","type":"quantitative","scale":{"domain":[1.04065,1.09956],"zero":false,"nice":false},
   "axis":{"orient":"right","title":null,"format":".5f","values":[1.09815,1.09505,1.09195,1.08885,1.08575,1.08265,1.07955,1.07645,1.07335,1.07025,1.0672,1.0641,1.061,1.0579,1.0548,1.0517,1.0486,1.0455,1.0424]}}}},
{"data":{"name":"levels"},"mark":{"type":"rect","color":"#ff0000","xOffset":1,"x2Offset":42,"yOffset":-5,"y2Offset":5},
 "encoding":{"x":{"value":"width"},"x2":{"value":"width"},
  "y":{"field":"p","type":"quantitative","scale":{"domain":[1.04065,1.09956],"zero":false,"nice":false},
   "axis":{"orient":"right","title":null,"format":".5f","values":[1.09815,1.09505,1.09195,1.08885,1.08575,1.08265,1.07955,1.07645,1.07335,1.07025,1.0672,1.0641,1.061,1.0579,1.0548,1.0517,1.0486,1.0455,1.0424]}},"y2":{"field":"p"}}},
{"data":{"name":"current"},"mark":{"type":"rect","color":"#000000","xOffset":1,"x2Offset":42,"yOffset":-5,"y2Offset":5},
 "encoding":{"x":{"value":"width"},"x2":{"value":"width"},
  "y":{"field":"p","type":"quantitative","scale":{"domain":[1.04065,1.09956],"zero":false,"nice":false},
   "axis":{"orient":"right","title":null,"format":".5f","values":[1.09815,1.09505,1.09195,1.08885,1.08575,1.08265,1.07955,1.07645,1.07335,1.07025,1.0672,1.0641,1.061,1.0579,1.0548,1.0517,1.0486,1.0455,1.0424]}},"y2":{"field":"p"}}},
{"data":{"name":"levels"},"mark":{"type":"text","color":"#ffffff","align":"left","baseline":"middle","dx":5,"font":"Liberation Sans","fontSize":9.5},
 "encoding":{"x":{"value":"width"},
  "y":{"field":"p","type":"quantitative","scale":{"domain":[1.04065,1.09956],"zero":false,"nice":false},
   "axis":{"orient":"right","title":null,"format":".5f","values":[1.09815,1.09505,1.09195,1.08885,1.08575,1.08265,1.07955,1.07645,1.07335,1.07025,1.0672,1.0641,1.061,1.0579,1.0548,1.0517,1.0486,1.0455,1.0424]}},
  "text":{"field":"p","type":"quantitative","format":".5f"}}},
{"data":{"name":"current"},"mark":{"type":"text","color":"#ffffff","align":"left","baseline":"middle","dx":5,"font":"Liberation Sans","fontSize":9.5},
 "encoding":{"x":{"value":"width"},
  "y":{"field":"p","type":"quantitative","scale":{"domain":[1.04065,1.09956],"zero":false,"nice":false},
   "axis":{"orient":"right","title":null,"format":".5f","values":[1.09815,1.09505,1.09195,1.08885,1.08575,1.08265,1.07955,1.07645,1.07335,1.07025,1.0672,1.0641,1.061,1.0579,1.0548,1.0517,1.0486,1.0455,1.0424]}},
  "text":{"field":"p","type":"quantitative","format":".5f"}}}
]
}
